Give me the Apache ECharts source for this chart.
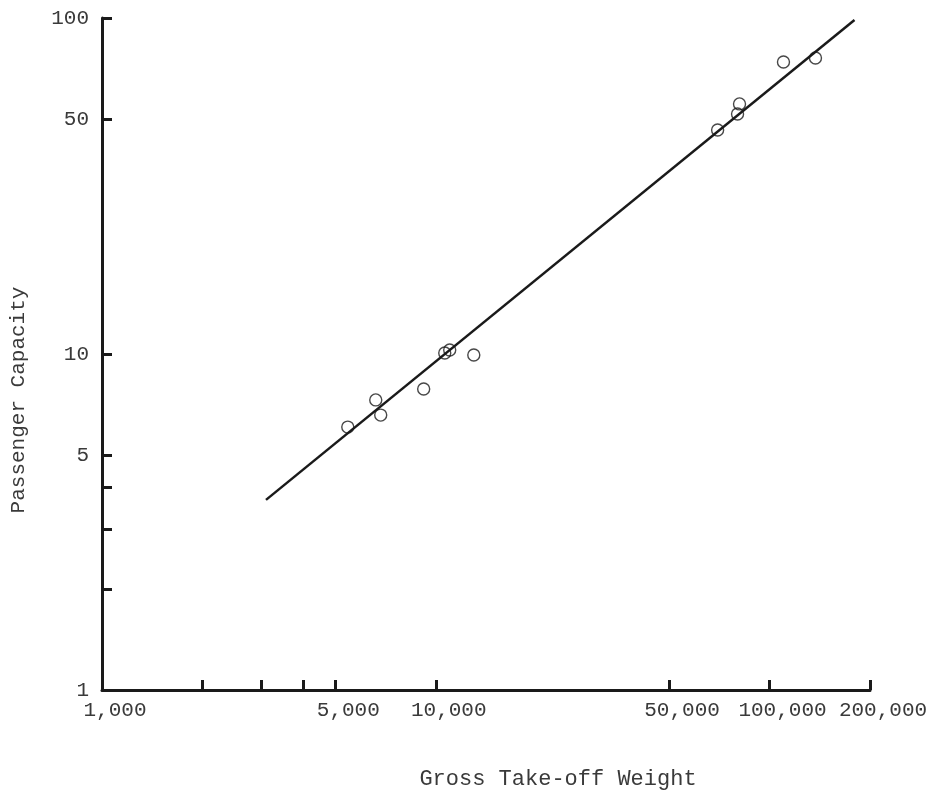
<!DOCTYPE html>
<html>
<head>
<meta charset="utf-8">
<script src="https://cdn.jsdelivr.net/npm/echarts@6/dist/echarts.min.js"></script>
<style>
html,body{margin:0;padding:0;background:#fff;}
#chart{width:939px;height:796px;}
</style>
</head>
<body>
<div id="chart"></div>
<script>
// Aircraft: gross take-off weight (lb) vs passenger capacity
const weights    = [5450, 6610, 6840, 9200, 10640, 11010, 13000, 69900, 80200, 81300, 110100, 137300];
const passengers = [6.06, 7.30, 6.58, 7.87, 10.07, 10.28, 9.93, 46.4, 51.8, 55.5, 74.0, 76.0];
// fitted line end points
const fitWeights    = [3100, 179700];
const fitPassengers = [3.68, 98.6];
// axis ticks and labels
const xTickValues  = [2000, 3000, 4000, 5000, 10000, 50000, 100000, 200000];
const xLabelValues = [1000, 5000, 10000, 50000, 100000, 200000];
const yTickValues  = [2, 3, 4, 5, 10, 50, 100];
const yLabelValues = [1, 5, 10, 50, 100];

const FONT = '"Liberation Mono", "DejaVu Sans Mono", monospace';
const INK = '#1a1a1a';
const TXT = '#3a3a3a';

const chart = echarts.init(document.getElementById('chart'), null, {renderer: 'canvas'});
chart.setOption({
  backgroundColor: '#ffffff',
  animation: false,
  grid: {left: 101, right: 69, top: 18, bottom: 106, containLabel: false},
  xAxis: {
    type: 'log', logBase: 10, min: 1000, max: 200000,
    name: 'Gross Take-off Weight', nameLocation: 'middle', nameGap: 78,
    nameTextStyle: {fontFamily: FONT, fontSize: 22, color: TXT, padding: [0, 0, 0, 144]},
    axisLine: {show: true, lineStyle: {color: INK, width: 3}},
    axisTick: {show: true, inside: true, length: 10, lineStyle: {color: INK, width: 3}, customValues: xTickValues},
    axisLabel: {show: true, fontFamily: FONT, fontSize: 21, color: TXT, margin: 10,
      padding: [0, 0, 0, 26], customValues: xLabelValues,
      formatter: v => Math.round(v).toLocaleString('en-US')},
    splitLine: {show: false},
    minorTick: {show: false}
  },
  yAxis: {
    type: 'log', logBase: 10, min: 1, max: 100,
    name: 'Passenger Capacity', nameLocation: 'middle', nameGap: 73, nameRotate: 90,
    nameTextStyle: {fontFamily: FONT, fontSize: 21, color: TXT, padding: [0, 92, 0, 0]},
    axisLine: {show: true, lineStyle: {color: INK, width: 3}},
    axisTick: {show: true, inside: true, length: 10, lineStyle: {color: INK, width: 3}, customValues: yTickValues},
    axisLabel: {show: true, fontFamily: FONT, fontSize: 21, color: TXT, margin: 13, customValues: yLabelValues},
    splitLine: {show: false},
    minorTick: {show: false}
  },
  series: [
    {
      type: 'line',
      data: fitWeights.map((w, i) => [w, fitPassengers[i]]),
      showSymbol: false,
      lineStyle: {color: INK, width: 2.5},
      silent: true,
      z: 2
    },
    {
      type: 'scatter',
      data: weights.map((w, i) => [w, passengers[i]]),
      symbol: 'circle',
      symbolSize: 12,
      itemStyle: {color: 'rgba(255,255,255,0)', borderColor: INK, borderWidth: 1.4},
      z: 3
    }
  ]
});
</script>
</body>
</html>
